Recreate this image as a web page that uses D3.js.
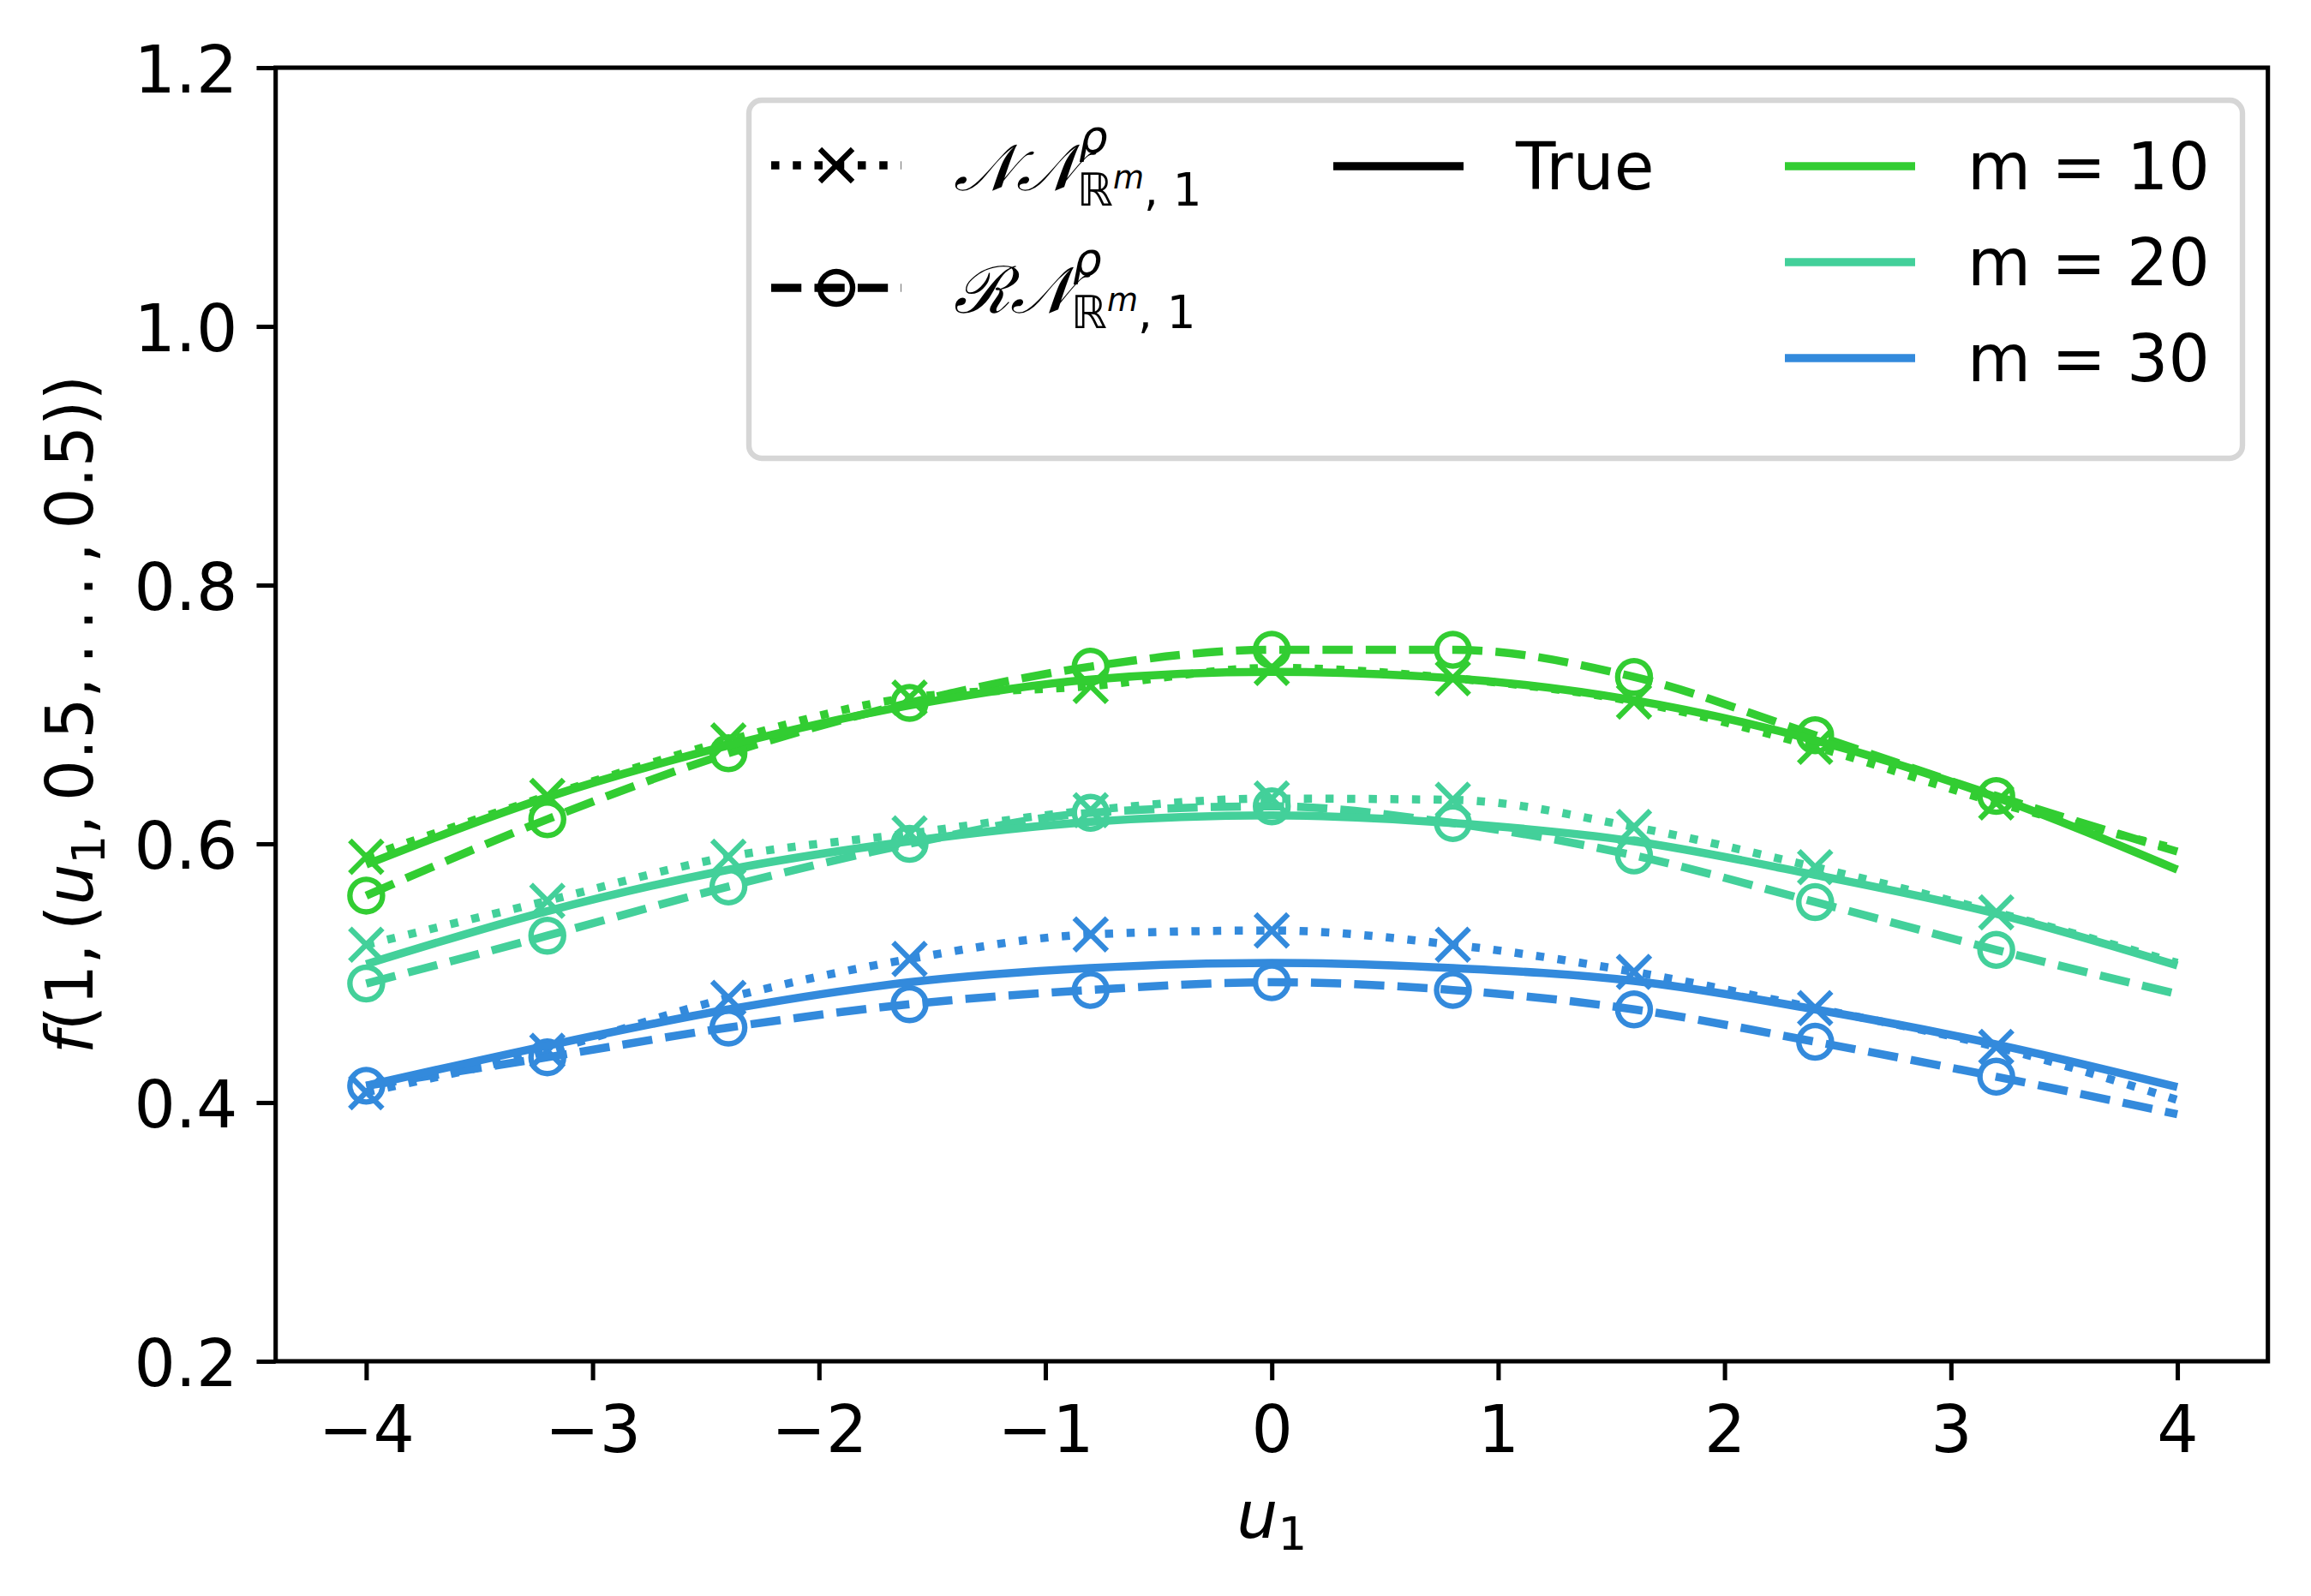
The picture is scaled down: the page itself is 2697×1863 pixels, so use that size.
<!DOCTYPE html>
<html>
<head>
<meta charset="utf-8">
<script src="https://cdn.jsdelivr.net/npm/d3@7"></script>
<style>
  body { margin: 0; background: #fff; }
  text { font-family: "DejaVu Sans", sans-serif; fill: #000; }
</style>
</head>
<body>
<div id="chart"></div>
<script>
// sample points along u1 (markers drawn on all but the last)
const u1 = [-4, -3.2, -2.4, -1.6, -0.8, 0, 0.8, 1.6, 2.4, 3.2, 4];
const xTicks = [-4, -3, -2, -1, 0, 1, 2, 3, 4];
const yTicks = [0.2, 0.4, 0.6, 0.8, 1.0, 1.2];

const mLabels = ["m = 10", "m = 20", "m = 30"];
const mColors = ["#32cd32", "#43d09a", "#338adc"];

const trueM10 = [0.584, 0.636, 0.676, 0.707, 0.727, 0.733, 0.728, 0.711, 0.680, 0.636, 0.580];
const nnM10   = [0.590, 0.637, 0.680, 0.713, 0.722, 0.736, 0.728, 0.710, 0.675, 0.632, 0.596];
const rnM10   = [0.560, 0.619, 0.670, 0.709, 0.737, 0.750, 0.750, 0.729, 0.684, 0.637, 0.594];

const trueM20 = [0.507, 0.548, 0.580, 0.602, 0.617, 0.622, 0.616, 0.602, 0.576, 0.546, 0.506];
const nnM20   = [0.522, 0.556, 0.590, 0.608, 0.626, 0.635, 0.634, 0.613, 0.582, 0.547, 0.508];
const rnM20   = [0.492, 0.529, 0.567, 0.600, 0.624, 0.629, 0.616, 0.591, 0.555, 0.518, 0.484];

const trueM30 = [0.413, 0.444, 0.472, 0.493, 0.504, 0.508, 0.504, 0.494, 0.472, 0.445, 0.412];
const nnM30   = [0.408, 0.440, 0.481, 0.511, 0.530, 0.533, 0.522, 0.501, 0.473, 0.443, 0.402];
const rnM30   = [0.413, 0.435, 0.458, 0.476, 0.487, 0.493, 0.487, 0.472, 0.447, 0.420, 0.391];

const trueSeries = [trueM10, trueM20, trueM30];
const nnSeries = [nnM10, nnM20, nnM30];
const rnSeries = [rnM10, rnM20, rnM30];

const width = 2697, height = 1863;
const margin = {left: 321.7, right: 2646.7, top: 79, bottom: 1589};
const pt = 6.35;           // pixels per point
const fs = 76;             // 12pt font
const lw = 1.5 * pt;

const svg = d3.select("#chart").append("svg")
    .attr("width", width)
    .attr("height", height)
    .attr("viewBox", `0 0 ${width} ${height}`);

const x = d3.scaleLinear().domain([-4.4, 4.4]).range([margin.left, margin.right]);
const y = d3.scaleLinear().domain([0.2, 1.2]).range([margin.bottom, margin.top]);

svg.append("clipPath").attr("id", "clip")
    .append("rect")
    .attr("x", margin.left).attr("y", margin.top)
    .attr("width", margin.right - margin.left)
    .attr("height", margin.bottom - margin.top);

const line = d3.line()
    .x((d, i) => x(u1[i]))
    .y(d => y(d))
    .curve(d3.curveMonotoneX);

const plot = svg.append("g").attr("clip-path", "url(#clip)");

function xMarker(g, cx, cy, color) {
    const s = 3 * pt; // half of a 6pt marker
    g.append("path")
        .attr("d", `M${cx - s},${cy - s}L${cx + s},${cy + s}M${cx - s},${cy + s}L${cx + s},${cy - s}`)
        .attr("stroke", color)
        .attr("stroke-width", pt)
        .attr("fill", "none");
}

function oMarker(g, cx, cy, color) {
    g.append("circle")
        .attr("cx", cx).attr("cy", cy)
        .attr("r", 3 * pt)
        .attr("stroke", color)
        .attr("stroke-width", pt)
        .attr("fill", "none");
}

mColors.forEach((color, k) => {
    // NN approximation: dotted with x markers
    plot.append("path")
        .attr("d", line(nnSeries[k]))
        .attr("fill", "none")
        .attr("stroke", color)
        .attr("stroke-width", lw)
        .attr("stroke-dasharray", `${1 * lw},${1.65 * lw}`);
    nnSeries[k].slice(0, -1).forEach((v, i) => xMarker(plot, x(u1[i]), y(v), color));

    // RN approximation: dashed with open circles
    plot.append("path")
        .attr("d", line(rnSeries[k]))
        .attr("fill", "none")
        .attr("stroke", color)
        .attr("stroke-width", lw)
        .attr("stroke-dasharray", `${3.7 * lw},${1.6 * lw}`);
    rnSeries[k].slice(0, -1).forEach((v, i) => oMarker(plot, x(u1[i]), y(v), color));

    // true function: solid
    plot.append("path")
        .attr("d", line(trueSeries[k]))
        .attr("fill", "none")
        .attr("stroke", color)
        .attr("stroke-width", lw);
});

// axes
const xAxis = svg.append("g")
    .attr("transform", `translate(0,${margin.bottom})`)
    .call(d3.axisBottom(x).tickValues(xTicks).tickFormat(d3.format("d"))
        .tickSize(3.5 * pt).tickPadding(30));
const yAxis = svg.append("g")
    .attr("transform", `translate(${margin.left},0)`)
    .call(d3.axisLeft(y).tickValues(yTicks).tickFormat(d3.format(".1f"))
        .tickSize(3.5 * pt).tickPadding(3.5 * pt));

[xAxis, yAxis].forEach(a => {
    a.select(".domain").remove();
    a.selectAll(".tick line").attr("stroke", "#000").attr("stroke-width", 0.8 * pt);
    a.selectAll(".tick text")
        .style("font-family", "DejaVu Sans")
        .style("font-size", fs + "px")
        .attr("fill", "#000");
});
yAxis.selectAll(".tick text").attr("dy", "0.37em");

// spines
svg.append("rect")
    .attr("x", margin.left).attr("y", margin.top)
    .attr("width", margin.right - margin.left)
    .attr("height", margin.bottom - margin.top)
    .attr("fill", "none")
    .attr("stroke", "#000")
    .attr("stroke-width", 0.8 * pt);

// axis labels
const xl = svg.append("text")
    .attr("x", (margin.left + margin.right) / 2)
    .attr("y", 1795)
    .attr("text-anchor", "middle")
    .style("font-size", fs + "px");
xl.append("tspan").style("font-style", "italic").text("u");
xl.append("tspan").attr("dy", 14).style("font-size", "53px").text("1");

const yl = svg.append("text")
    .attr("transform", `translate(108,${(margin.top + margin.bottom) / 2}) rotate(-90)`)
    .attr("text-anchor", "middle")
    .style("font-size", fs + "px");
yl.append("tspan").style("font-style", "italic").text("f");
yl.append("tspan").text("(1,\u2009(");
yl.append("tspan").style("font-style", "italic").text("u");
yl.append("tspan").attr("dy", 14).style("font-size", "53px").text("1");
yl.append("tspan").attr("dy", -14).text(",\u20090.5,\u2009.\u2009.\u2009.\u2009,\u20090.5))");

// legend
const leg = svg.append("g");
leg.append("rect")
    .attr("x", 874).attr("y", 117)
    .attr("width", 2617 - 874).attr("height", 535 - 117)
    .attr("rx", 15).attr("ry", 15)
    .attr("fill", "#fff").attr("fill-opacity", 0.8)
    .attr("stroke", "#d6d6d6")
    .attr("stroke-width", pt);

const hLen = 2 * fs;

function handle(x0, yy, color, dash) {
    const p = leg.append("line")
        .attr("x1", x0).attr("x2", x0 + hLen)
        .attr("y1", yy).attr("y2", yy)
        .attr("stroke", color)
        .attr("stroke-width", lw);
    if (dash) p.attr("stroke-dasharray", dash);
}

function mathLabel(x0, yy, base) {
    const t = leg.append("text")
        .attr("x", x0).attr("y", yy + 29)
        .style("font-size", fs + "px")
        .style("font-family", "'DejaVu Serif', serif")
        .style("font-style", "italic")
        .text(base);
    const w = t.node().getComputedTextLength();
    leg.append("text")
        .attr("x", x0 + w).attr("y", yy - 15)
        .style("font-size", "53px")
        .style("font-style", "italic")
        .text("ρ");
    const s = leg.append("text")
        .attr("x", x0 + w - 2).attr("y", yy + 47)
        .style("font-size", "53px");
    s.append("tspan").text("ℝ");
    s.append("tspan").attr("dy", -20).style("font-size", "37px").style("font-style", "italic").text("m");
    s.append("tspan").attr("dy", 20).text(", 1");
}

// column 1
const c1 = 900;
handle(c1, 193, "#000", `${lw},${1.65 * lw}`);
xMarker(leg, c1 + hLen / 2, 193, "#000");
mathLabel(c1 + hLen + 61, 193, "𝒩𝒩");

handle(c1, 336, "#000", `${3.7 * lw},${1.6 * lw}`);
oMarker(leg, c1 + hLen / 2, 336, "#000");
mathLabel(c1 + hLen + 61, 336, "ℛ𝒩");

// column 2
const c2 = 1556;
handle(c2, 194, "#000", null);
leg.append("text").attr("x", c2 + hLen + 61).attr("y", 194 + 27)
    .style("font-size", fs + "px").text("True");

// column 3
const c3 = 2083;
mLabels.forEach((lab, k) => {
    const yy = 194 + k * 112;
    handle(c3, yy, mColors[k], null);
    leg.append("text").attr("x", c3 + hLen + 61).attr("y", yy + 27)
        .style("font-size", fs + "px").text(lab);
});
</script>
</body>
</html>
